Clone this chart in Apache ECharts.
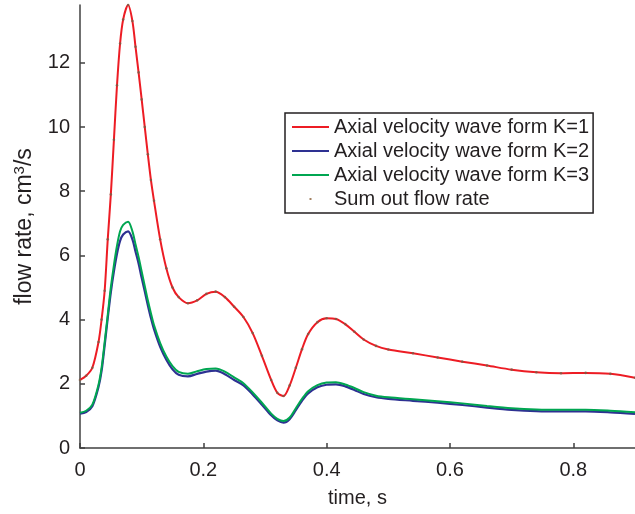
<!DOCTYPE html>
<html>
<head>
<meta charset="utf-8">
<script src="https://cdn.jsdelivr.net/npm/echarts@6/dist/echarts.min.js"></script>
<style>html,body{margin:0;padding:0;background:#fff;}#c{width:635px;height:514px;}</style>
</head>
<body>
<div id="c"></div>
<script>
var time = [0, 0.01, 0.02, 0.03, 0.035, 0.04, 0.045, 0.05, 0.055, 0.06, 0.065, 0.07, 0.078, 0.085, 0.09, 0.095, 0.1, 0.105, 0.11, 0.115, 0.12, 0.13, 0.14, 0.15, 0.16, 0.175, 0.19, 0.205, 0.22, 0.235, 0.25, 0.265, 0.28, 0.295, 0.31, 0.32, 0.33, 0.34, 0.35, 0.36, 0.37, 0.385, 0.4, 0.415, 0.43, 0.445, 0.46, 0.48, 0.5, 0.54, 0.58, 0.62, 0.66, 0.7, 0.74, 0.78, 0.82, 0.86, 0.9];
var k1 = [2.12, 2.25, 2.5, 3.3, 4.0, 4.9, 6.5, 7.9, 9.6, 11.3, 12.6, 13.35, 13.8, 13.3, 12.5, 11.7, 10.86, 10.0, 9.15, 8.35, 7.7, 6.5, 5.6, 5.0, 4.7, 4.51, 4.6, 4.8, 4.87, 4.7, 4.4, 4.08, 3.58, 2.87, 2.12, 1.72, 1.62, 1.95, 2.5, 3.08, 3.55, 3.92, 4.04, 4.02, 3.86, 3.62, 3.38, 3.18, 3.07, 2.95, 2.82, 2.69, 2.57, 2.44, 2.36, 2.33, 2.34, 2.31, 2.19];
var k2 = [1.07, 1.12, 1.3, 1.9, 2.4, 3.2, 4.05, 4.85, 5.5, 6.05, 6.45, 6.65, 6.75, 6.5, 6.12, 5.75, 5.3, 4.88, 4.45, 4.05, 3.7, 3.15, 2.75, 2.45, 2.28, 2.23, 2.31, 2.38, 2.41, 2.3, 2.12, 1.95, 1.67, 1.35, 1.02, 0.86, 0.79, 0.9, 1.18, 1.47, 1.7, 1.89, 1.97, 1.98, 1.92, 1.81, 1.68, 1.58, 1.53, 1.47, 1.41, 1.34, 1.26, 1.19, 1.15, 1.14, 1.14, 1.11, 1.06];
var k3 = [1.1, 1.16, 1.35, 1.97, 2.5, 3.3, 4.15, 5.0, 5.7, 6.3, 6.75, 6.95, 7.05, 6.75, 6.35, 5.95, 5.5, 5.05, 4.6, 4.2, 3.83, 3.27, 2.85, 2.55, 2.37, 2.31, 2.39, 2.46, 2.48, 2.38, 2.2, 2.02, 1.73, 1.41, 1.07, 0.91, 0.84, 0.95, 1.24, 1.53, 1.77, 1.96, 2.04, 2.05, 1.98, 1.87, 1.74, 1.63, 1.58, 1.52, 1.46, 1.39, 1.31, 1.24, 1.2, 1.19, 1.19, 1.16, 1.11];
var sumOut = [2.12, 2.25, 2.5, 3.3, 4.0, 4.9, 6.5, 7.9, 9.6, 11.3, 12.6, 13.35, 13.8, 13.3, 12.5, 11.7, 10.86, 10.0, 9.15, 8.35, 7.7, 6.5, 5.6, 5.0, 4.7, 4.51, 4.6, 4.8, 4.87, 4.7, 4.4, 4.08, 3.58, 2.87, 2.12, 1.72, 1.62, 1.95, 2.5, 3.08, 3.55, 3.92, 4.04, 4.02, 3.86, 3.62, 3.38, 3.18, 3.07, 2.95, 2.82, 2.69, 2.57, 2.44, 2.36, 2.33, 2.34, 2.31, 2.19];
var seriesNames = ['Axial velocity wave form K=1', 'Axial velocity wave form K=2', 'Axial velocity wave form K=3', 'Sum out flow rate'];

function pairs(xs, ys) { return xs.map(function (x, i) { return [x, ys[i]]; }); }

var FONT = "'Liberation Sans', Arial, sans-serif";
var TXT = '#231f20';
var AX = '#404040';
var lineIcon = 'path://M0,0M37,14M0,6H37V8H0Z';
var dotIcon = 'path://M0,0M37,14M17.5,6H19.5V8H17.5Z';

var chart = echarts.init(document.getElementById('c'), null, { renderer: 'canvas' });
chart.setOption({
  backgroundColor: '#fff',
  animation: false,
  grid: { left: 80, top: 5, right: -1, bottom: 66, containLabel: false },
  legend: {
    orient: 'vertical', left: 285, top: 113,
    padding: [4, 4, 4, 7],
    itemWidth: 37, itemHeight: 14, itemGap: 4,
    borderColor: '#231f20', borderWidth: 1.5, backgroundColor: '#fff',
    textStyle: { fontFamily: FONT, fontSize: 20, color: TXT, lineHeight: 20 },
    data: [
      { name: seriesNames[0], icon: lineIcon, itemStyle: { color: '#ed1c24' } },
      { name: seriesNames[1], icon: lineIcon, itemStyle: { color: '#2e3192' } },
      { name: seriesNames[2], icon: lineIcon, itemStyle: { color: '#00a651' } },
      { name: seriesNames[3], icon: dotIcon, itemStyle: { color: '#8c6239' } }
    ]
  },
  xAxis: {
    type: 'value', min: 0, max: 0.9, interval: 0.2,
    name: 'time, s', nameLocation: 'middle', nameGap: 40,
    nameTextStyle: { fontFamily: FONT, fontSize: 20, color: TXT },
    axisLine: { lineStyle: { color: AX, width: 1.5 } },
    axisTick: { inside: true, length: 5, lineStyle: { color: AX, width: 1.5 } },
    axisLabel: { showMaxLabel: false, fontFamily: FONT, fontSize: 20, color: TXT, margin: 12,
      formatter: function (v) { return v === 0 ? '0' : v.toFixed(1); } },
    splitLine: { show: false }
  },
  yAxis: {
    type: 'value', min: 0, max: 13.8, interval: 2,
    name: '{a|flow rate, cm}{b|3}{a|/s}', nameLocation: 'middle', nameGap: 42,
    nameTextStyle: { fontFamily: FONT, fontSize: 23, color: TXT,
      rich: { a: { fontFamily: FONT, fontSize: 23, color: TXT, lineHeight: 26 },
              b: { fontFamily: FONT, fontSize: 15, color: TXT, verticalAlign: 'top', lineHeight: 14 } } },
    axisLine: { show: true, lineStyle: { color: AX, width: 1.5 } },
    axisTick: { show: true, inside: true, length: 5, lineStyle: { color: AX, width: 1.5 } },
    axisLabel: { showMaxLabel: false, fontFamily: FONT, fontSize: 20, color: TXT, margin: 10 },
    splitLine: { show: false }
  },
  series: [
    { name: seriesNames[0], type: 'line', data: pairs(time, k1), smooth: 0.3, symbol: 'none',
      lineStyle: { color: '#ed1c24', width: 2 }, itemStyle: { color: '#ed1c24' }, z: 2 },
    { name: seriesNames[1], type: 'line', data: pairs(time, k2), smooth: 0.3, symbol: 'none',
      lineStyle: { color: '#2e3192', width: 2.2 }, itemStyle: { color: '#2e3192' }, z: 2 },
    { name: seriesNames[2], type: 'line', data: pairs(time, k3), smooth: 0.3, symbol: 'none',
      lineStyle: { color: '#00a651', width: 2 }, itemStyle: { color: '#00a651' }, z: 3 },
    { name: seriesNames[3], type: 'scatter', data: pairs(time, sumOut), symbol: 'circle', symbolSize: 2.6,
      itemStyle: { color: '#7a5c45' }, z: 4 }
  ]
});
</script>
</body>
</html>
